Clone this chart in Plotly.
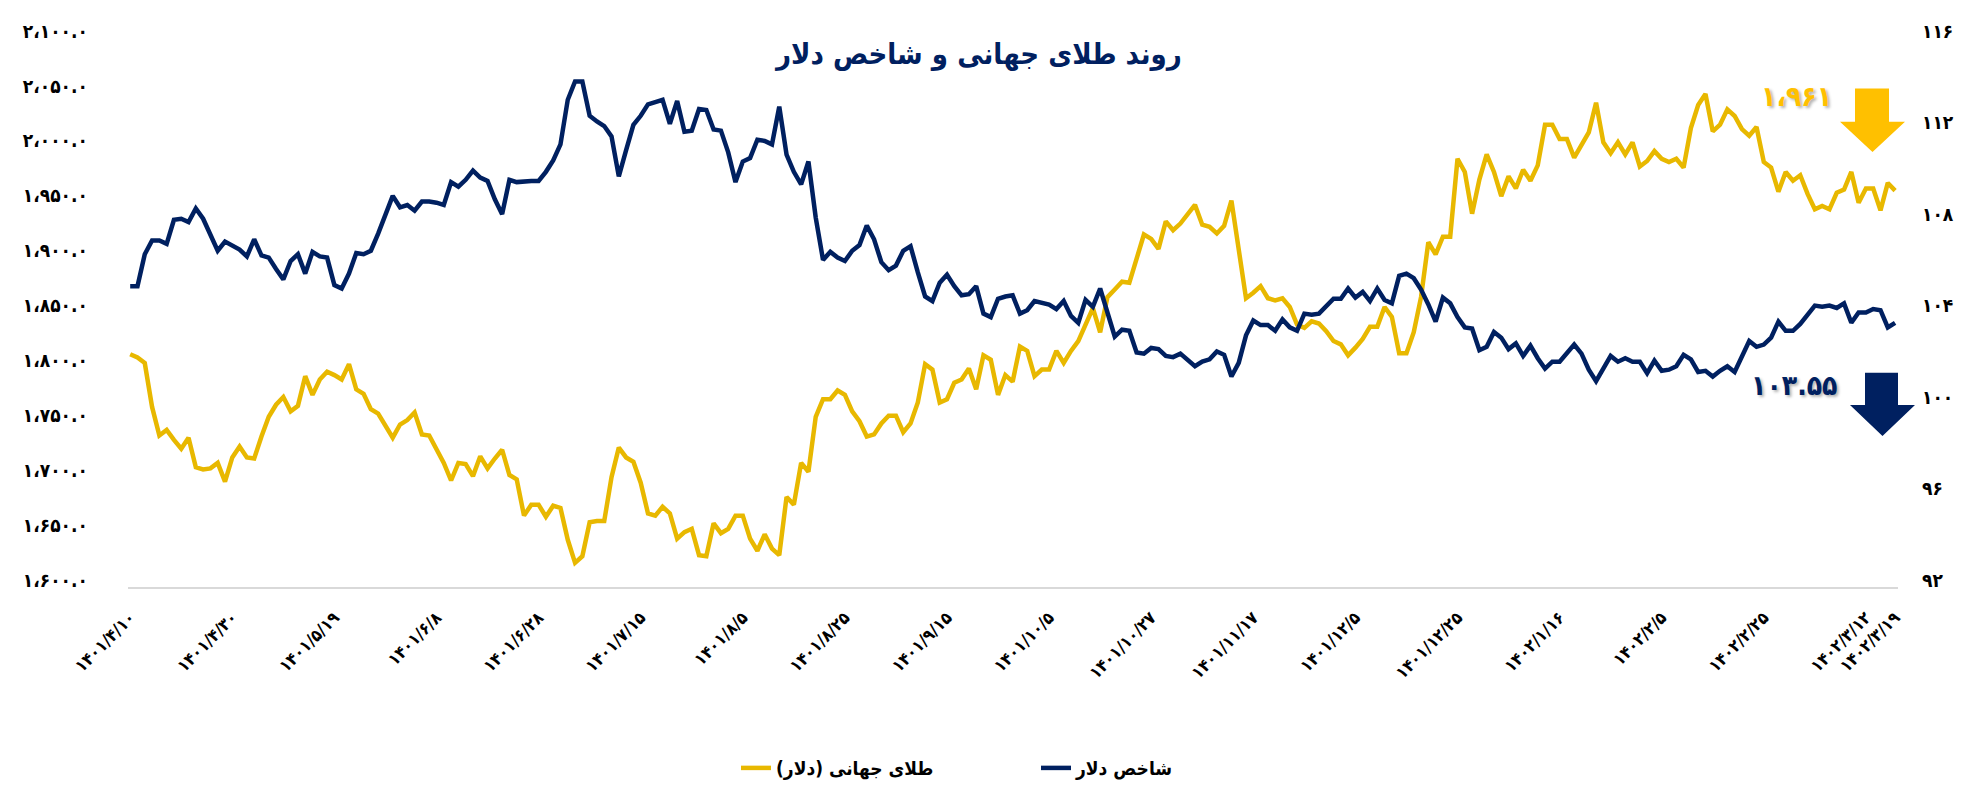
import plotly.graph_objects as go

# ---------------- data ----------------
gold = [
    1812, 1809, 1804, 1764, 1738, 1743, 1734, 1726, 1736, 1709,
    1707, 1708, 1713, 1696, 1718, 1728, 1718, 1717, 1737, 1755,
    1766, 1773, 1760, 1765, 1792, 1775, 1789, 1796, 1793, 1789,
    1803, 1780, 1776, 1762, 1758, 1747, 1736, 1748, 1752, 1759,
    1739, 1738, 1726, 1713, 1697, 1713, 1712, 1701, 1719, 1708,
    1717, 1725, 1702, 1698, 1665, 1675, 1675, 1664, 1674, 1672,
    1643, 1622, 1628, 1659, 1660, 1660, 1700, 1727, 1718, 1714,
    1695, 1667, 1665, 1673, 1667, 1644, 1650, 1653, 1629, 1628,
    1658, 1649, 1653, 1665, 1665, 1644, 1633, 1648, 1635, 1629,
    1682, 1675, 1713, 1705, 1755, 1771, 1771, 1779, 1775, 1760,
    1751, 1737, 1739, 1749, 1756, 1756, 1741, 1749, 1768, 1803,
    1798, 1768, 1771, 1786, 1789, 1799, 1780, 1811, 1807, 1775,
    1793, 1787, 1819, 1815, 1792, 1798, 1798, 1815, 1804, 1815,
    1824, 1839, 1854, 1832, 1864, 1871, 1878, 1877, 1900, 1921,
    1917, 1908, 1933, 1925, 1931, 1939, 1948, 1930, 1928, 1922,
    1929, 1952, 1908, 1863, 1868, 1874, 1863, 1861, 1863, 1855,
    1839, 1836, 1842, 1840, 1833, 1824, 1821, 1811, 1818, 1826,
    1837, 1837, 1855, 1846, 1813, 1813, 1832, 1864, 1914, 1903,
    1919, 1919, 1990, 1978, 1940, 1971, 1994, 1978, 1956, 1974,
    1963, 1980, 1970, 1984, 2021, 2021, 2008, 2008, 1991, 2002,
    2014, 2041, 2005, 1995, 2005, 1994, 2005, 1983, 1988, 1997,
    1990, 1987, 1990, 1982, 2018, 2039, 2049, 2015, 2021, 2035,
    2029, 2017, 2011, 2019, 1987, 1982, 1960, 1978, 1970, 1975,
    1958, 1944, 1947, 1944, 1959, 1962, 1978, 1950, 1963, 1963,
    1943, 1968, 1961,
]

dollar_index = [
    105.15, 105.15, 106.55, 107.15, 107.15, 107.0, 108.05, 108.1, 107.95, 108.55,
    108.1, 107.4, 106.7, 107.1, 106.9, 106.75, 106.45, 107.2, 106.5, 106.4,
    105.9, 105.45, 106.25, 106.55, 105.7, 106.65, 106.45, 106.4, 105.2, 105.05,
    105.7, 106.6, 106.55, 106.7, 107.45, 108.3, 109.1, 108.6, 108.7, 108.45,
    108.85, 108.85, 108.8, 108.7, 109.7, 109.5, 109.8, 110.2, 109.9, 109.75,
    108.95, 108.3, 109.8, 109.7, 109.75, 109.75, 109.75, 110.15, 110.65, 111.35,
    113.3, 114.1, 114.1, 112.6, 112.35, 112.15, 111.7, 109.95, 111.1, 112.2,
    112.6, 113.1, 113.2, 113.3, 112.25, 113.25, 111.9, 111.95, 112.9, 112.85,
    112.0, 111.95, 111.0, 109.7, 110.6, 110.75, 111.55, 111.5, 111.35, 113.0,
    110.9, 110.15, 109.6, 110.6, 108.15, 106.3, 106.65, 106.4, 106.25, 106.7,
    106.95, 107.8, 107.2, 106.2, 105.85, 106.05, 106.7, 106.9, 105.75, 104.7,
    104.5, 105.3, 105.65, 105.15, 104.75, 104.8, 105.15, 103.95, 103.8, 104.6,
    104.7, 104.75, 103.95, 104.1, 104.5, 104.4, 104.35, 104.15, 104.5, 103.85,
    103.55, 104.55, 104.25, 105.05, 104.05, 102.95, 103.25, 103.2, 102.25, 102.2,
    102.45, 102.4, 102.1, 102.05, 102.2, 101.95, 101.65, 101.85, 101.95, 102.3,
    102.15, 101.2, 101.8, 103.0, 103.65, 103.45, 103.45, 103.2, 103.7, 103.35,
    103.2, 103.95, 103.9, 103.95, 104.25, 104.6, 104.6, 105.05, 104.65, 104.9,
    104.5, 105.05, 104.55, 104.4, 105.6, 105.7, 105.5, 105.0, 104.35, 103.6,
    104.65, 104.4, 103.8, 103.35, 103.3, 102.35, 102.5, 103.15, 102.9, 102.4,
    102.65, 102.1, 102.55, 102.0, 101.55, 101.85, 101.85, 102.2, 102.6, 102.2,
    101.5, 101.0, 101.6, 102.1, 101.85, 102.0, 101.85, 101.85, 101.35, 101.9,
    101.45, 101.5, 101.65, 102.15, 101.95, 101.4, 101.45, 101.2, 101.45, 101.65,
    101.4, 102.05, 102.75, 102.5, 102.6, 102.9, 103.6, 103.2, 103.2, 103.5,
    103.9, 104.3, 104.25, 104.3, 104.2, 104.4, 103.55, 104.0, 104.0, 104.15,
    104.1, 103.35, 103.55,
]

date_labels = [
    "۱۴۰۱/۴/۱۰", "۱۴۰۱/۴/۳۰", "۱۴۰۱/۵/۱۹", "۱۴۰۱/۶/۸", "۱۴۰۱/۶/۲۸",
    "۱۴۰۱/۷/۱۵", "۱۴۰۱/۸/۵", "۱۴۰۱/۸/۲۵", "۱۴۰۱/۹/۱۵", "۱۴۰۱/۱۰/۵",
    "۱۴۰۱/۱۰/۲۷", "۱۴۰۱/۱۱/۱۷", "۱۴۰۱/۱۲/۵", "۱۴۰۱/۱۲/۲۵", "۱۴۰۲/۱/۱۶",
    "۱۴۰۲/۲/۵", "۱۴۰۲/۲/۲۵", "۱۴۰۲/۳/۱۲", "۱۴۰۲/۳/۱۹",
]
date_label_positions = [0, 14, 28, 42, 56, 70, 84, 98, 112, 126,
                        140, 154, 168, 182, 196, 210, 224, 238, 242]

gold_axis_ticks = [1600, 1650, 1700, 1750, 1800, 1850, 1900, 1950, 2000, 2050, 2100]
dollar_axis_ticks = [92, 96, 100, 104, 108, 112, 116]

title_text = "روند طلای جهانی و شاخص دلار"
gold_name = "\u200fطلای جهانی (دلار)\u200f"
dollar_name = "شاخص دلار"
gold_last_label = "۱،۹۶۱"
dollar_last_label = "۱۰۳.۵۵"

# ---------------- styling ----------------
W, H = 1973, 791
ML, MR, MT, MB = 120, 83, 26, 201
GOLD = "#E8B800"
GOLD_ARROW = "#FFC000"
NAVY = "#002060"
FONT = "DejaVu Sans Condensed, DejaVu Sans"

FA = str.maketrans("0123456789,", "۰۱۲۳۴۵۶۷۸۹،")


def fa(s):
    return s.translate(FA)


def px_x(x):
    return (x - ML) / (W - ML - MR)


def px_y(y):
    return (H - MB - y) / (H - MT - MB)


day_index = list(range(len(gold)))

fig = go.Figure()
fig.add_trace(go.Scatter(
    x=day_index, y=gold, name=gold_name, mode="lines",
    line=dict(color=GOLD, width=4.5), yaxis="y",
))
fig.add_trace(go.Scatter(
    x=list(range(len(dollar_index))), y=dollar_index, name=dollar_name, mode="lines",
    line=dict(color=NAVY, width=4.5), yaxis="y2",
))

tick_font = dict(family=FONT, size=19, color="#000000", weight="bold")

fig.update_layout(
    width=W, height=H,
    margin=dict(l=ML, r=MR, t=MT, b=MB, pad=0),
    paper_bgcolor="white", plot_bgcolor="white",
    font=dict(family=FONT),
    xaxis=dict(
        range=[-0.3, 242.4], showgrid=False, zeroline=False,
        showline=True, linecolor="#D9D9D9", linewidth=2,
        tickmode="array", tickvals=date_label_positions, ticktext=date_labels,
        tickangle=-45, ticks="", ticklabelstandoff=12,
        tickfont=dict(family=FONT, size=17, color="#000000", weight="bold"),
    ),
    yaxis=dict(
        range=[1600, 2100], showgrid=False, zeroline=False, showline=False,
        tickmode="array", tickvals=gold_axis_ticks,
        ticktext=[fa(f"{v:,.1f}") for v in gold_axis_ticks],
        ticks="", ticklabelstandoff=39, ticklabelshift=-7,
        tickfont=tick_font,
    ),
    yaxis2=dict(
        range=[92, 116], overlaying="y", side="right",
        showgrid=False, zeroline=False, showline=False,
        tickmode="array", tickvals=dollar_axis_ticks,
        ticktext=[fa(str(v)) for v in dollar_axis_ticks],
        ticks="", ticklabelstandoff=23, ticklabelshift=-7,
        tickfont=tick_font,
    ),
    legend=dict(
        orientation="h", x=px_x(728), y=px_y(776), xanchor="left", yanchor="middle",
        font=dict(family=FONT, size=19, color="#000000", weight="bold"),
        entrywidth=255, entrywidthmode="pixels",
        bgcolor="rgba(0,0,0,0)",
    ),
)

# title
fig.add_annotation(
    text=title_text, xref="paper", yref="paper", x=px_x(970), y=px_y(42),
    xanchor="center", yanchor="middle", showarrow=False,
    font=dict(family=FONT, size=29, color=NAVY, weight="bold"),
)

# value callouts
fig.add_annotation(
    text=gold_last_label, xref="paper", yref="paper", x=px_x(1788), y=px_y(86),
    xanchor="center", yanchor="middle", showarrow=False,
    font=dict(family=FONT, size=28, color=GOLD_ARROW, weight="bold",
              shadow="2px 2px 3px rgba(0,0,0,0.3)"),
)
fig.add_annotation(
    text=dollar_last_label, xref="paper", yref="paper", x=px_x(1786), y=px_y(383),
    xanchor="center", yanchor="middle", showarrow=False,
    font=dict(family=FONT, size=28, color=NAVY, weight="bold",
              shadow="2px 2px 3px rgba(0,0,0,0.3)"),
)


def arrow_path(x0, x1, ytop, yneck, hx0, hx1, ytip):
    pts = [(x0, ytop), (x1, ytop), (x1, yneck), (hx1, yneck),
           ((hx0 + hx1) / 2, ytip), (hx0, yneck), (x0, yneck)]
    return "M " + " L ".join(f"{px_x(a):.5f},{px_y(b):.5f}" for a, b in pts) + " Z"


fig.add_shape(type="path", xref="paper", yref="paper",
              path=arrow_path(1847, 1881, 78, 112, 1832, 1897, 143),
              fillcolor=GOLD_ARROW, line=dict(width=0))
fig.add_shape(type="path", xref="paper", yref="paper",
              path=arrow_path(1857, 1890, 370, 403, 1842, 1907, 435),
              fillcolor=NAVY, line=dict(width=0))

fig.write_html("out.html")
